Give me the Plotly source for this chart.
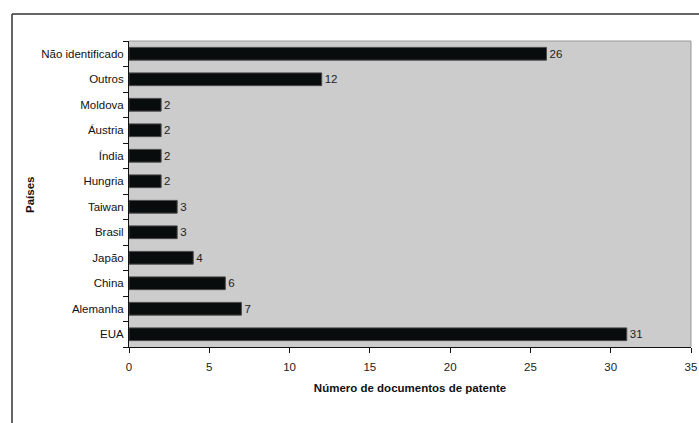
import plotly.graph_objects as go

# Patent documents per country (bottom to top on the chart)
countries = ["EUA", "Alemanha", "China", "Japão", "Brasil", "Taiwan",
             "Hungria", "Índia", "Áustria", "Moldova", "Outros", "Não identificado"]
documents = [31, 7, 6, 4, 3, 3, 2, 2, 2, 2, 12, 26]

x_ticks = [0, 5, 10, 15, 20, 25, 30, 35]

FONT = "Liberation Sans, Arial, sans-serif"
FS = 11.5

fig = go.Figure(
    go.Bar(
        x=documents,
        y=countries,
        orientation="h",
        width=0.5,
        marker=dict(color="#080c0c", line=dict(color="#4a4a4a", width=1)),
        text=[str(v) for v in documents],
        textposition="outside",
        textfont=dict(family=FONT, size=FS, color="#222222"),
        cliponaxis=False,
    )
)

L, T, W, H = 129, 41, 562, 306

fig.update_layout(
    width=699,
    height=423,
    margin=dict(l=L, r=699 - L - W, t=T, b=423 - T - H, autoexpand=False),
    paper_bgcolor="white",
    plot_bgcolor="#cccccc",
    showlegend=False,
    font=dict(family=FONT, size=FS, color="#111111"),
    xaxis=dict(
        range=[0, 35],
        tickvals=x_ticks,
        ticktext=[str(t) for t in x_ticks],
        ticks="outside",
        ticklen=5,
        tickcolor="#111111",
        showgrid=False,
        zeroline=False,
        showline=True,
        linecolor="#111111",
        linewidth=1,
        automargin=False,
        ticklabelstandoff=4,
        title=dict(text="<b>Número de documentos de patente</b>",
                   font=dict(size=FS, family=FONT), standoff=12),
        tickfont=dict(size=FS, color="#222222"),
    ),
    yaxis=dict(
        type="category",
        categoryorder="array",
        categoryarray=countries,
        ticks="outside",
        tickson="boundaries",
        ticklen=5,
        tickcolor="#111111",
        showgrid=False,
        showline=True,
        linecolor="#111111",
        linewidth=1,
        automargin=False,
        ticklabelstandoff=2,
        tickfont=dict(size=FS, color="#111111"),
        range=[-0.5, len(countries) - 0.5],
    ),
)

# Plot-area frame on top and right, lighter grey
fig.add_shape(type="line", xref="paper", yref="paper", x0=0, x1=1, y0=1, y1=1,
              line=dict(color="#999999", width=1))
fig.add_shape(type="line", xref="paper", yref="paper", x0=1, x1=1, y0=0, y1=1,
              line=dict(color="#999999", width=1))

# Outer chart frame (top and left edges)
ox = (12 - L) / W
oy = (T + H - 14) / H
fig.add_shape(type="line", xref="paper", yref="paper", x0=ox, x1=1.2, y0=oy, y1=oy,
              line=dict(color="#333333", width=1.5))
fig.add_shape(type="line", xref="paper", yref="paper", x0=ox, x1=ox, y0=oy, y1=-0.4,
              line=dict(color="#333333", width=1.5))

# Rotated y-axis title
fig.add_annotation(text="<b>Países</b>", xref="paper", yref="paper",
                   x=(30 - L) / W, y=(T + H - 195) / H, textangle=-90,
                   xanchor="center", yanchor="middle",
                   showarrow=False, font=dict(size=FS, family=FONT, color="#111111"))

fig.write_html("out.html")
